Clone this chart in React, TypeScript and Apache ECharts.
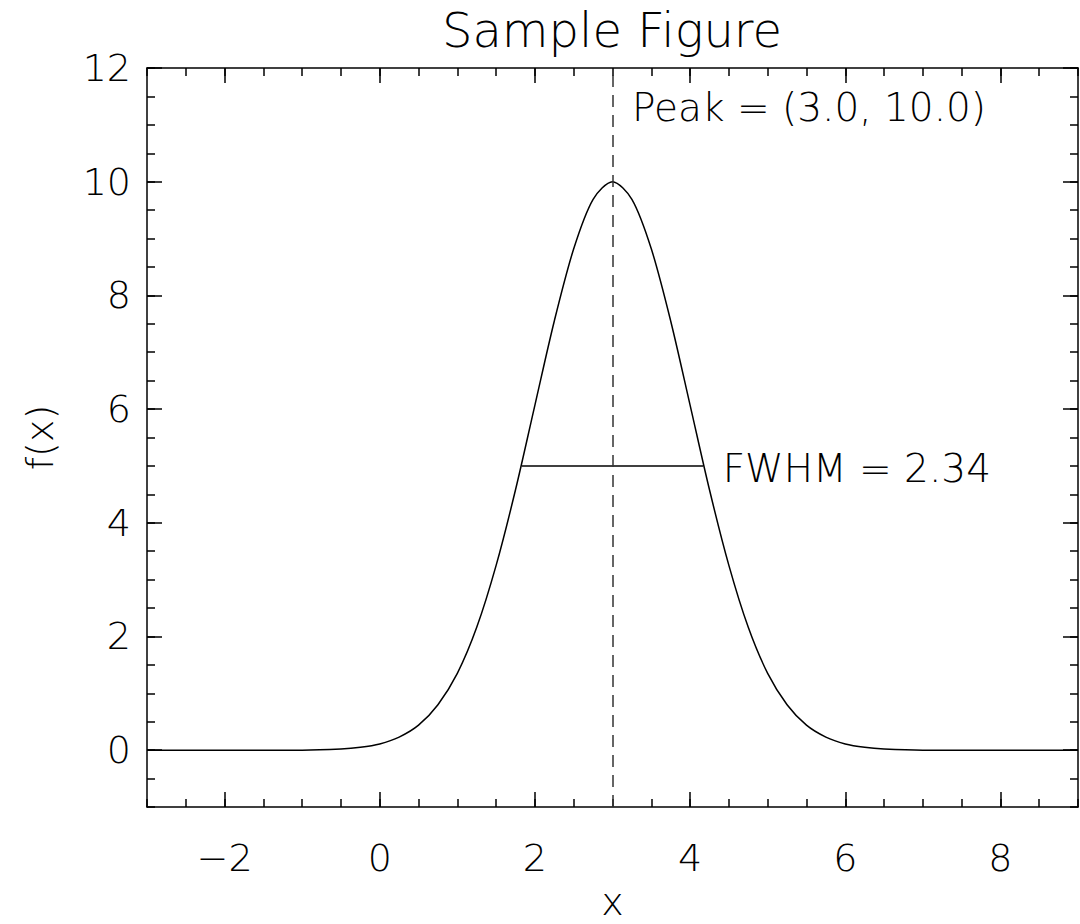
import React, { useEffect, useRef } from "react";
import * as echarts from "echarts";

const curveX = [-3, -1, -0.5, -0.25, 0, 0.25, 0.5, 0.75, 1, 1.25, 1.5, 1.75, 2, 2.25, 2.5, 2.75, 3, 3.25, 3.5, 3.75, 4, 4.25, 4.5, 4.75, 5, 5.25, 5.5, 5.75, 6, 6.25, 6.5, 7, 9];
const curveY = [0, 0, 0.02, 0.05, 0.11, 0.23, 0.44, 0.8, 1.35, 2.16, 3.25, 4.58, 6.07, 7.55, 8.82, 9.69, 10, 9.69, 8.82, 7.55, 6.07, 4.58, 3.25, 2.16, 1.35, 0.8, 0.44, 0.23, 0.11, 0.05, 0.02, 0, 0];
const peakX = 3.0;
const peakY = 10.0;
const fwhmX = [1.83, 4.17];
const halfY = 5.0;
const fwhmValue = 2.34;
const xMajorTicks = [-2, 0, 2, 4, 6, 8];
const yMajorTicks = [0, 2, 4, 6, 8, 10, 12];
const xRange = [-3, 9];
const yRange = [-1, 12];

const FONT = "'DejaVu Sans', sans-serif";
const FW = 200;

export default function App() {
  const ref = useRef<HTMLDivElement>(null);
  useEffect(() => {
    const chart = echarts.init(ref.current!, undefined, { renderer: "svg" });
    const line = { color: "#000", width: 1.5 };
    const labelStyle = { color: "#000", fontSize: 38, fontFamily: FONT, fontWeight: FW };
    const fmt = (v: number) => String(v).replace("-", "\u2212");
    const majorAxis = (pos: string, ticks: number[], range: number[], labels: boolean, extra: any = {}) => ({
      type: "value",
      position: pos,
      min: range[0],
      max: range[1],
      axisLine: { show: true, onZero: false, lineStyle: line },
      axisTick: { show: true, inside: true, length: 15, customValues: ticks, lineStyle: { color: "#000", width: 1.5 } },
      axisLabel: labels
        ? { show: true, customValues: ticks, formatter: fmt, ...labelStyle, margin: pos === "bottom" ? 32 : 16 }
        : { show: false },
      splitLine: { show: false },
      ...extra,
    });
    const minorAxis = (pos: string, range: number[]) => ({
      type: "value",
      position: pos,
      min: range[0],
      max: range[1],
      interval: 0.5,
      axisLine: { show: false, onZero: false },
      axisTick: { show: true, inside: true, length: 8, lineStyle: { color: "#000", width: 1.5 } },
      axisLabel: { show: false },
      splitLine: { show: false },
    });
    chart.setOption({
      animation: false,
      backgroundColor: "#fff",
      grid: { left: 147, right: 2, top: 68, bottom: 117, containLabel: false, outerBoundsMode: "none" },
      xAxis: [
        majorAxis("bottom", xMajorTicks, xRange, true, {
          name: "x",
          nameLocation: "middle",
          nameGap: 82,
          nameTextStyle: { ...labelStyle, lineHeight: 26 },
        }),
        majorAxis("top", xMajorTicks, xRange, false),
        minorAxis("bottom", xRange),
        minorAxis("top", xRange),
      ],
      yAxis: [
        majorAxis("left", yMajorTicks, yRange, true, {
          name: "f(x)",
          nameLocation: "middle",
          nameGap: 88,
          nameTextStyle: { ...labelStyle },
        }),
        majorAxis("right", yMajorTicks, yRange, false),
        minorAxis("left", yRange),
        minorAxis("right", yRange),
      ],
      graphic: [
        {
          type: "text",
          x: 612,
          y: 30,
          style: {
            text: "Sample Figure",
            align: "center",
            verticalAlign: "middle",
            fill: "#000",
            font: `${FW} 48px ${FONT}`,
          },
        },
      ],
      series: [
        {
          type: "line",
          data: curveX.map((x, i) => [x, curveY[i]]),
          smooth: 0.3,
          showSymbol: false,
          lineStyle: { color: "#000", width: 1.5 },
          markLine: {
            silent: true,
            symbol: "none",
            label: { show: false },
            lineStyle: { color: "#333", width: 1.5, type: [12, 8] },
            data: [{ xAxis: peakX }],
          },
        },
        {
          type: "line",
          data: fwhmX.map((x) => [x, halfY]),
          showSymbol: false,
          lineStyle: { color: "#000", width: 1.5 },
        },
        {
          type: "scatter",
          symbolSize: 0,
          itemStyle: { color: "#000", opacity: 1 },
          data: [
            { value: [peakX + 0.25, peakY + 1.3], label: { formatter: `Peak = (${peakX.toFixed(1)}, ${peakY.toFixed(1)})` } },
            { value: [fwhmX[1] + 0.25, halfY - 0.05], label: { formatter: `FWHM = ${fwhmValue.toFixed(2)}` } },
          ],
          label: {
            show: true,
            position: "right",
            distance: 0,
            ...labelStyle,
            fontSize: 39,
          },
        },
      ],
    });
    return () => chart.dispose();
  }, []);
  return <div ref={ref} style={{ position: "absolute", left: 0, top: 0, width: 1080, height: 924 }} />;
}
